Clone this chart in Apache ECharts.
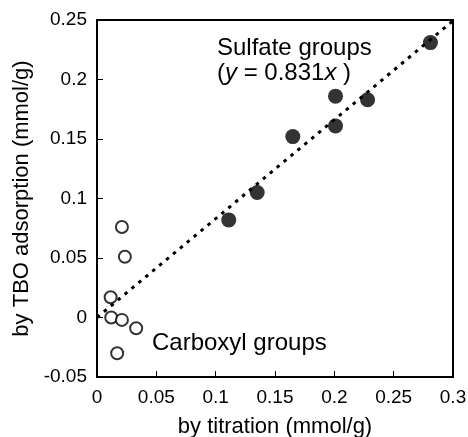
<!DOCTYPE html>
<html><head><meta charset="utf-8">
<script src="https://cdn.jsdelivr.net/npm/echarts@6/dist/echarts.min.js"></script>
<style>html,body{margin:0;padding:0;background:#fff}#c{width:468px;height:437px}</style>
</head><body><div id="c"></div>
<script>
const sulfateX = [0.111, 0.135, 0.165, 0.201, 0.201, 0.228, 0.281];
const sulfateY = [0.082, 0.105, 0.152, 0.161, 0.186, 0.183, 0.231];
const carboxylX = [0.021, 0.0235, 0.0115, 0.012, 0.021, 0.033, 0.017];
const carboxylY = [0.076, 0.051, 0.017, 0.000, -0.002, -0.009, -0.030];
const slope = 0.831;
const fitX = [0, 0.3];
const xTicks = [0, 0.05, 0.1, 0.15, 0.2, 0.25, 0.3];
const yTicks = [-0.05, 0, 0.05, 0.1, 0.15, 0.2, 0.25];

const font = '"Liberation Sans", Arial, Helvetica, sans-serif';
const fmt = v => String(Math.round(v * 1000) / 1000);

const chart = echarts.init(document.getElementById('c'));
chart.setOption({
  animation: false,
  backgroundColor: '#fff',
  grid: {left: 97, right: 15, top: 20, bottom: 60, show: true, borderColor: '#000', borderWidth: 2,
         containLabel: false, outerBoundsMode: 'none'},
  xAxis: {
    type: 'value', min: 0, max: 0.3, interval: 0.05,
    axisLine: {show: true, onZero: false, lineStyle: {color: '#000', width: 2}},
    axisTick: {show: true, inside: true, length: 6, lineStyle: {color: '#000', width: 1}},
    splitLine: {show: false},
    axisLabel: {color: '#000', fontSize: 19, fontFamily: font, margin: 11, formatter: fmt},
    name: 'by titration (mmol/g)', nameLocation: 'middle', nameGap: 39,
    nameTextStyle: {color: '#000', fontSize: 22, fontFamily: font}
  },
  yAxis: {
    type: 'value', min: -0.05, max: 0.25, interval: 0.05,
    axisLine: {show: true, onZero: false, lineStyle: {color: '#000', width: 2}},
    axisTick: {show: true, inside: true, length: 6, lineStyle: {color: '#000', width: 1}},
    splitLine: {show: false},
    axisLabel: {color: '#000', fontSize: 19, fontFamily: font, margin: 10, formatter: fmt},
    name: 'by TBO adsorption (mmol/g)', nameLocation: 'middle', nameGap: 62,
    nameTextStyle: {color: '#000', fontSize: 22, fontFamily: font}
  },
  series: [
    {
      type: 'line', data: fitX.map(x => [x, slope * x]), symbol: 'none',
      lineStyle: {color: '#000', width: 3, type: [3.5, 5.5], cap: 'butt'}, z: 1
    },
    {
      type: 'scatter', data: sulfateX.map((x, i) => [x, sulfateY[i]]),
      symbol: 'circle', symbolSize: 15, itemStyle: {color: '#000'}, z: 3
    },
    {
      type: 'scatter', data: carboxylX.map((x, i) => [x, carboxylY[i]]),
      symbol: 'circle', symbolSize: 12,
      itemStyle: {color: '#fff', borderColor: '#000', borderWidth: 2}, z: 3
    }
  ],
  graphic: [
    {type: 'text', left: 217, top: 36, style: {text: 'Sulfate groups', font: '24px ' + font, fill: '#000'}},
    {type: 'text', left: 217, top: 61, style: {
      text: '{n|(}{i|y}{n| = 0.831}{i|x}{n| )}', fill: '#000',
      rich: {n: {fontSize: 24, fontFamily: font, fill: '#000'}, i: {fontSize: 24, fontFamily: font, fontStyle: 'italic', fill: '#000'}}
    }},
    {type: 'text', left: 152, top: 331, style: {text: 'Carboxyl groups', font: '24px ' + font, fill: '#000'}}
  ]
});
</script></body></html>
